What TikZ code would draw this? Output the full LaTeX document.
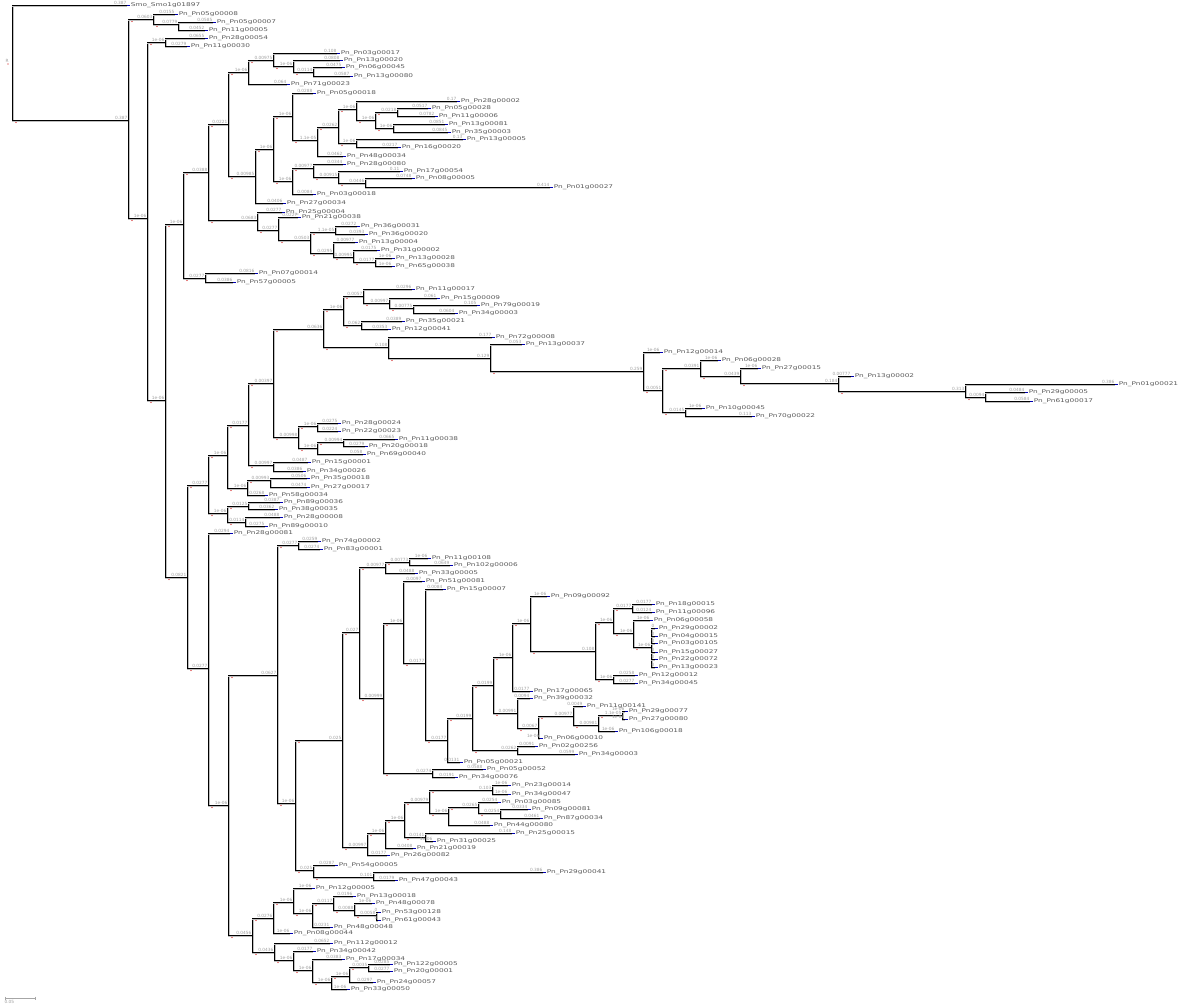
\documentclass[tikz,border=0pt]{standalone}
\usepackage{fontspec}
\newfontfamily\tipfont[FakeStretch=1.45]{DejaVu Sans}
\newfontfamily\lenfont{DejaVu Sans}
\usetikzlibrary{calc}

% vertical bar of a node: x, y top, y bottom
\newcommand{\vl}[3]{%
  \draw[twigshadow] (#1+0.9,#2) -- (#1+0.9,#3+0.9);
  \draw[twig] (#1,#2) -- (#1,#3);}
% inner branch: x from, x to, y, length
\newcommand{\ib}[4]{%
  \draw[twigshadow] (#1,#3+0.9) -- (#2,#3+0.9);
  \draw[twig] (#1,#3) -- (#2,#3);
  \node[blen] at (#2,#3) {#4};
  \fill[red!80!black] (#1+4,#3+2.5) circle (0.7);}
% leaf: x from, x to, y, length, name
\newcommand{\lf}[5]{%
  \draw[twigshadow] (#1,#3+0.9) -- (#2,#3+0.9);
  \draw[twig] (#1,#3) -- (#2,#3);
  \node[blen] at (#2,#3) {#4};
  \draw[tipmark] (#2,#3) -- ++(3,0);
  \node[leafname] at (#2+3,#3) {#5};}

\begin{document}
\begin{tikzpicture}[x=1pt,y=-1pt,
  twig/.style={black,line width=0.8},
  twigshadow/.style={gray!50,line width=1.6},
  blen/.style={anchor=south east,inner sep=0.4,text=gray!75,font=\lenfont\fontsize{4.3}{4.3}\selectfont},
  leafname/.style={anchor=west,inner sep=0.6,text=black!65,font=\tipfont\fontsize{5.1}{5.1}\selectfont},
  tipmark/.style={blue!70!black,line width=0.9}]
\useasboundingbox (0,0) rectangle (1200,1008);

% root
\vl{12}{5}{120}
\node[blen,anchor=center] at (7,61) {R};
\fill[red!80!black] (8,64) circle (0.7);
\lf{12}{127}{5}{0.387}{Smo\_Smo1g01897}
\ib{12}{128}{120}{0.387}
\vl{128}{19}{218}
\ib{128}{153}{19}{0.0603}
\vl{153}{14}{24}
\lf{153}{175}{14}{0.0155}{Pn\_Pn05g00008}
\ib{153}{178}{24}{0.0779}
\vl{178}{22}{30}
\lf{178}{213}{22}{0.0585}{Pn\_Pn05g00007}
\lf{178}{205}{30}{0.0452}{Pn\_Pn11g00005}
\ib{128}{147}{218}{1e-06}
\vl{147}{42}{400}
\ib{147}{165}{42}{1e-06}
\vl{165}{38}{46}
\lf{165}{205}{38}{0.0655}{Pn\_Pn28g00054}
\lf{165}{187}{46}{0.0279}{Pn\_Pn11g00030}
\ib{147}{165}{400}{1e-06}
\vl{165}{224}{577}

% upper clade
\ib{165}{183}{224}{1e-06}
\vl{183}{172}{278}
\ib{183}{208}{172}{0.0388}
\vl{208}{124}{220}
\ib{208}{228}{124}{0.0221}
\vl{228}{72}{176}
\ib{228}{248}{72}{1e-06}
\vl{248}{60}{84}
\ib{248}{273}{60}{0.00975}
\vl{273}{53}{66}
\lf{273}{337}{53}{0.108}{Pn\_Pn03g00017}
\ib{273}{293}{66}{1e-06}
\vl{293}{60}{72}
\lf{293}{340}{60}{0.0808}{Pn\_Pn13g00020}
\ib{293}{313}{72}{0.0114}
\vl{313}{67}{76}
\lf{313}{342}{67}{0.0475}{Pn\_Pn06g00045}
\lf{313}{350}{76}{0.0587}{Pn\_Pn13g00080}
\lf{248}{287}{84}{0.064}{Pn\_Pn71g00023}
\ib{228}{255}{176}{0.00985}
\vl{255}{149}{203}
\ib{255}{273}{149}{1e-06}
\vl{273}{116}{181}
\ib{273}{292}{116}{1e-06}
\vl{292}{93}{140}
\lf{292}{313}{93}{0.0288}{Pn\_Pn05g00018}
\ib{292}{317}{140}{1.1e-05}
\vl{317}{127}{156}
\ib{317}{338}{127}{0.0262}
\vl{338}{109}{143}
\ib{338}{356}{109}{1e-06}
\vl{356}{101}{120}
\lf{356}{457}{101}{0.17}{Pn\_Pn28g00002}
\ib{356}{375}{120}{1e-06}
\vl{375}{112}{128}
\ib{375}{397}{112}{0.0218}
\vl{397}{108}{116}
\lf{397}{428}{108}{0.0517}{Pn\_Pn05g00028}
\lf{397}{435}{116}{0.0782}{Pn\_Pn11g00006}
\ib{375}{393}{128}{1e-06}
\vl{393}{124}{132}
\lf{393}{445}{124}{0.0851}{Pn\_Pn13g00081}
\lf{393}{448}{132}{0.0845}{Pn\_Pn35g00003}
\ib{338}{356}{143}{1e-06}
\vl{356}{139}{147}
\lf{356}{463}{139}{0.13}{Pn\_Pn13g00005}
\lf{356}{398}{147}{0.0217}{Pn\_Pn16g00020}
\lf{317}{343}{156}{0.0462}{Pn\_Pn48g00034}
\ib{273}{292}{181}{1e-06}
\vl{292}{168}{194}
\ib{292}{313}{168}{0.00977}
\vl{313}{164}{177}
\lf{313}{343}{164}{0.0344}{Pn\_Pn28g00080}
\ib{313}{338}{177}{0.00915}
\vl{338}{171}{183}
\lf{338}{400}{171}{0.11}{Pn\_Pn17g00054}
\ib{338}{365}{183}{0.0446}
\vl{365}{178}{187}
\lf{365}{412}{178}{0.0748}{Pn\_Pn08g00005}
\lf{365}{550}{187}{0.414}{Pn\_Pn01g00027}
\lf{292}{313}{194}{0.0084}{Pn\_Pn03g00018}
\lf{255}{283}{203}{0.0406}{Pn\_Pn27g00034}
\ib{208}{257}{220}{0.0683}
\vl{257}{212}{230}
\lf{257}{282}{212}{0.0277}{Pn\_Pn25g00004}
\ib{257}{278}{230}{0.0277}
\vl{278}{217}{240}
\lf{278}{298}{217}{0.0227}{Pn\_Pn21g00038}
\ib{278}{310}{240}{0.0503}
\vl{310}{232}{253}
\ib{310}{335}{232}{1.1e-05}
\vl{335}{226}{234}
\lf{335}{357}{226}{0.0272}{Pn\_Pn36g00031}
\lf{335}{365}{234}{0.0393}{Pn\_Pn36g00020}
\ib{310}{333}{253}{0.0295}
\vl{333}{242}{257}
\lf{333}{355}{242}{0.00977}{Pn\_Pn13g00004}
\ib{333}{353}{257}{0.00995}
\vl{353}{250}{262}
\lf{353}{377}{250}{0.0175}{Pn\_Pn31g00002}
\ib{353}{375}{262}{0.0177}
\vl{375}{258}{266}
\lf{375}{392}{258}{1e-06}{Pn\_Pn13g00028}
\lf{375}{392}{266}{1e-06}{Pn\_Pn65g00038}
\ib{183}{205}{278}{0.0277}
\vl{205}{273}{282}
\lf{205}{255}{273}{0.0816}{Pn\_Pn07g00014}
\lf{205}{233}{282}{0.0386}{Pn\_Pn57g00005}

% middle clade
\ib{165}{187}{577}{0.0821}
\vl{187}{485}{668}
\ib{187}{208}{485}{0.0277}
\vl{208}{455}{513}
\ib{208}{227}{455}{1e-06}
\vl{227}{425}{488}
\ib{227}{248}{425}{0.0177}
\vl{248}{383}{465}
\ib{248}{273}{383}{0.00397}
\vl{273}{329}{437}
\ib{273}{323}{329}{0.0636}
\vl{323}{309}{347}
\ib{323}{343}{309}{1e-06}
\vl{343}{296}{325}
\ib{343}{363}{296}{0.0057}
\vl{363}{289}{303}
\lf{363}{412}{289}{0.0296}{Pn\_Pn11g00017}
\ib{363}{389}{303}{0.00997}
\vl{389}{298}{308}
\lf{389}{437}{298}{0.061}{Pn\_Pn15g00009}
\ib{389}{413}{308}{0.00775}
\vl{413}{305}{313}
\lf{413}{477}{305}{0.105}{Pn\_Pn79g00019}
\lf{413}{455}{313}{0.0604}{Pn\_Pn34g00003}
\ib{343}{361}{325}{0.062}
\vl{361}{321}{329}
\lf{361}{402}{321}{0.0389}{Pn\_Pn35g00021}
\lf{361}{388}{329}{0.0353}{Pn\_Pn12g00041}
\ib{323}{388}{347}{0.108}
\vl{388}{337}{358}
\lf{388}{492}{337}{0.177}{Pn\_Pn72g00008}
\ib{388}{490}{358}{0.129}
\vl{490}{344}{371}
\lf{490}{522}{344}{0.053}{Pn\_Pn13g00037}
\ib{490}{643}{371}{0.259}
\vl{643}{352}{390}
\lf{643}{660}{352}{1e-06}{Pn\_Pn12g00014}
\ib{643}{662}{390}{0.0051}
\vl{662}{368}{412}
\ib{662}{700}{368}{0.0391}
\vl{700}{360}{376}
\lf{700}{718}{360}{1e-06}{Pn\_Pn06g00028}
\ib{700}{740}{376}{0.0439}
\vl{740}{368}{383}
\lf{740}{758}{368}{1e-06}{Pn\_Pn27g00015}
\ib{740}{838}{383}{0.184}
\vl{838}{376}{391}
\lf{838}{851}{376}{0.00777}{Pn\_Pn13g00002}
\ib{838}{965}{391}{0.313}
\vl{965}{384}{397}
\lf{965}{1115}{384}{0.386}{Pn\_Pn01g00021}
\ib{965}{985}{397}{0.0094}
\vl{985}{392}{401}
\lf{985}{1025}{392}{0.0484}{Pn\_Pn29g00005}
\lf{985}{1030}{401}{0.0584}{Pn\_Pn61g00017}
\ib{662}{685}{412}{0.0145}
\vl{685}{408}{416}
\lf{685}{702}{408}{1e-06}{Pn\_Pn10g00045}
\lf{685}{752}{416}{0.113}{Pn\_Pn70g00022}
\ib{273}{298}{437}{0.00998}
\vl{298}{426}{448}
\ib{298}{317}{426}{1e-06}
\vl{317}{423}{431}
\lf{317}{338}{423}{0.0275}{Pn\_Pn28g00024}
\lf{317}{338}{431}{0.0224}{Pn\_Pn22g00023}
\ib{298}{317}{448}{1e-06}
\vl{317}{442}{454}
\ib{317}{343}{442}{0.00994}
\vl{343}{439}{446}
\lf{343}{395}{439}{0.0665}{Pn\_Pn11g00038}
\lf{343}{365}{446}{0.0279}{Pn\_Pn20g00018}
\lf{317}{363}{454}{0.058}{Pn\_Pn69g00040}
\ib{248}{273}{465}{0.00997}
\vl{273}{462}{471}
\lf{273}{308}{462}{0.0487}{Pn\_Pn15g00001}
\lf{273}{303}{471}{0.0386}{Pn\_Pn34g00026}
\ib{227}{247}{488}{1e-06}
\vl{247}{480}{495}
\ib{247}{270}{480}{0.00993}
\vl{270}{478}{487}
\lf{270}{307}{478}{0.0506}{Pn\_Pn35g00018}
\lf{270}{307}{487}{0.0474}{Pn\_Pn27g00017}
\lf{247}{265}{495}{0.0268}{Pn\_Pn58g00034}
\ib{208}{227}{513}{1e-06}
\vl{227}{506}{522}
\ib{227}{248}{506}{0.0125}
\vl{248}{502}{509}
\lf{248}{280}{502}{0.0387}{Pn\_Pn89g00036}
\lf{248}{275}{509}{0.0362}{Pn\_Pn38g00035}
\ib{227}{245}{522}{0.0114}
\vl{245}{517}{526}
\lf{245}{280}{517}{0.0488}{Pn\_Pn28g00008}
\lf{245}{265}{526}{0.0275}{Pn\_Pn89g00010}

% lower clade
\ib{187}{208}{668}{0.0277}
\vl{208}{533}{805}
\lf{208}{230}{533}{0.0294}{Pn\_Pn28g00081}
\ib{208}{228}{805}{1e-06}
\vl{228}{675}{935}
\ib{228}{277}{675}{0.0627}
\vl{277}{545}{803}
\ib{277}{298}{545}{0.0277}
\vl{298}{541}{549}
\lf{298}{318}{541}{0.0259}{Pn\_Pn74g00002}
\lf{298}{320}{549}{0.0274}{Pn\_Pn83g00001}
\ib{277}{295}{803}{1e-06}
\vl{295}{740}{870}
\ib{295}{342}{740}{0.025}
\vl{342}{632}{847}
\ib{342}{359}{632}{0.027}
\vl{359}{567}{698}
\ib{359}{385}{567}{0.00977}
\vl{385}{562}{573}
\ib{385}{409}{562}{0.00773}
\vl{409}{558}{565}
\lf{409}{428}{558}{1e-06}{Pn\_Pn11g00108}
\lf{409}{450}{565}{0.0649}{Pn\_Pn102g00006}
\lf{385}{415}{573}{0.0488}{Pn\_Pn33g00005}
\ib{359}{383}{698}{0.00999}
\vl{383}{623}{773}
\ib{383}{403}{623}{1e-06}
\vl{403}{581}{663}
\lf{403}{422}{581}{0.0097}{Pn\_Pn51g00081}
\ib{403}{425}{663}{0.0177}
\vl{425}{589}{740}
\lf{425}{443}{589}{0.0084}{Pn\_Pn15g00007}
\ib{425}{447}{740}{0.0177}
\vl{447}{718}{762}
\ib{447}{472}{718}{0.0199}
\vl{472}{685}{750}
\ib{472}{493}{685}{0.0199}
\vl{493}{657}{713}
\ib{493}{512}{657}{1e-06}
\vl{512}{623}{691}
\ib{512}{530}{623}{1e-06}
\vl{530}{596}{651}
\lf{530}{547}{596}{1e-06}{Pn\_Pn09g00092}
\ib{530}{595}{651}{0.108}
\vl{595}{622}{679}
\ib{595}{613}{622}{1e-06}
\vl{613}{608}{633}
\ib{613}{632}{608}{0.0177}
\vl{632}{604}{612}
\lf{632}{652}{604}{0.0177}{Pn\_Pn18g00015}
\lf{632}{652}{612}{0.0124}{Pn\_Pn11g00096}
\ib{613}{633}{633}{1e-06}
\vl{633}{620}{647}
\lf{633}{650}{620}{1e-06}{Pn\_Pn06g00058}
\ib{633}{651}{647}{1e-06}
\vl{651}{628}{667}
\foreach \yy/\nm in {628/Pn\_Pn29g00002,636/Pn\_Pn04g00015,643/Pn\_Pn03g00105,
    652/Pn\_Pn15g00027,659/Pn\_Pn22g00072,667/Pn\_Pn13g00023}
  {\lf{651}{655}{\yy}{0}{\nm}}
\ib{595}{613}{679}{1e-06}
\vl{613}{675}{683}
\lf{613}{635}{675}{0.0258}{Pn\_Pn12g00012}
\lf{613}{635}{683}{0.0277}{Pn\_Pn34g00045}
\lf{512}{530}{691}{0.0177}{Pn\_Pn17g00065}
\ib{493}{517}{713}{0.00991}
\vl{517}{698}{728}
\lf{517}{530}{698}{0.0094}{Pn\_Pn39g00032}
\ib{517}{538}{728}{0.0067}
\vl{538}{716}{738}
\ib{538}{573}{716}{0.00977}
\vl{573}{706}{725}
\lf{573}{583}{706}{0.0049}{Pn\_Pn11g00141}
\ib{573}{598}{725}{0.00981}
\vl{598}{715}{731}
\ib{598}{622}{715}{1.1e-05}
\vl{622}{711}{719}
\lf{622}{625}{711}{1e-06}{Pn\_Pn29g00077}
\lf{622}{625}{719}{1e-06}{Pn\_Pn27g00080}
\lf{598}{615}{731}{1e-06}{Pn\_Pn106g00018}
\lf{538}{540}{738}{1e-06}{Pn\_Pn06g00010}
\ib{472}{517}{750}{0.0262}
\vl{517}{746}{754}
\lf{517}{535}{746}{0.0091}{Pn\_Pn02g00256}
\lf{517}{575}{754}{0.0599}{Pn\_Pn34g00003}
\lf{447}{460}{762}{0.0131}{Pn\_Pn05g00021}
\ib{383}{432}{773}{0.0274}
\vl{432}{769}{777}
\lf{432}{483}{769}{0.0588}{Pn\_Pn05g00052}
\lf{432}{455}{777}{0.0191}{Pn\_Pn34g00076}
\ib{342}{367}{847}{0.00997}
\vl{367}{833}{855}
\ib{367}{385}{833}{1e-06}
\vl{385}{820}{848}
\ib{385}{404}{820}{1e-06}
\vl{404}{802}{837}
\ib{404}{429}{802}{0.00979}
\vl{429}{790}{813}
\ib{429}{492}{790}{0.103}
\vl{492}{785}{794}
\lf{492}{508}{785}{1e-06}{Pn\_Pn23g00014}
\lf{492}{508}{794}{1e-06}{Pn\_Pn34g00047}
\ib{429}{448}{813}{1e-06}
\vl{448}{807}{825}
\ib{448}{478}{807}{0.0265}
\vl{478}{802}{813}
\lf{478}{498}{802}{0.0254}{Pn\_Pn03g00085}
\ib{478}{500}{813}{0.0254}
\vl{500}{809}{818}
\lf{500}{528}{809}{0.0334}{Pn\_Pn09g00081}
\lf{500}{540}{818}{0.0461}{Pn\_Pn87g00034}
\lf{448}{490}{825}{0.0488}{Pn\_Pn44g00080}
\ib{404}{425}{837}{0.0141}
\vl{425}{833}{841}
\lf{425}{512}{833}{0.148}{Pn\_Pn25g00015}
\lf{425}{433}{841}{1e-06}{Pn\_Pn31g00025}
\lf{385}{413}{848}{0.0408}{Pn\_Pn21g00019}
\lf{367}{387}{855}{0.0177}{Pn\_Pn26g00082}
\ib{295}{313}{870}{0.025}
\vl{313}{865}{877}
\lf{313}{335}{865}{0.0287}{Pn\_Pn54g00005}
\ib{313}{373}{877}{0.101}
\vl{373}{872}{880}
\lf{373}{543}{872}{0.386}{Pn\_Pn29g00041}
\lf{373}{395}{880}{0.0179}{Pn\_Pn47g00043}
\ib{228}{252}{935}{0.0456}
\vl{252}{918}{952}
\ib{252}{273}{918}{0.0276}
\vl{273}{902}{933}
\ib{273}{293}{902}{1e-06}
\vl{293}{888}{913}
\lf{293}{312}{888}{1e-06}{Pn\_Pn12g00005}
\ib{293}{312}{913}{1e-06}
\vl{312}{903}{927}
\ib{312}{333}{903}{0.0117}
\vl{333}{896}{910}
\lf{333}{353}{896}{0.0196}{Pn\_Pn13g00018}
\ib{333}{354}{910}{0.0088}
\vl{354}{903}{915}
\lf{354}{372}{903}{1e-06}{Pn\_Pn48g00078}
\ib{354}{376}{915}{0.0058}
\vl{376}{912}{920}
\lf{376}{378}{912}{0}{Pn\_Pn53g00128}
\lf{376}{378}{920}{0}{Pn\_Pn61g00043}
\lf{312}{330}{927}{0.0231}{Pn\_Pn48g00048}
\lf{273}{290}{933}{1e-06}{Pn\_Pn08g00044}
\ib{252}{274}{952}{0.0436}
\vl{274}{943}{960}
\lf{274}{330}{943}{0.0652}{Pn\_Pn112g00012}
\ib{274}{293}{960}{1e-06}
\vl{293}{951}{970}
\lf{293}{313}{951}{0.0177}{Pn\_Pn34g00042}
\ib{293}{312}{970}{1e-06}
\vl{312}{959}{982}
\lf{312}{342}{959}{0.0383}{Pn\_Pn17g00034}
\ib{312}{331}{982}{1e-06}
\vl{331}{976}{989}
\ib{331}{349}{976}{1e-06}
\vl{349}{967}{982}
\ib{349}{368}{967}{0.0035}
\vl{368}{964}{971}
\lf{368}{390}{964}{0.0285}{Pn\_Pn122g00005}
\lf{368}{390}{971}{0.0277}{Pn\_Pn20g00001}
\lf{349}{373}{982}{0.0297}{Pn\_Pn24g00057}
\lf{331}{347}{989}{1e-06}{Pn\_Pn33g00050}

% scale bar
\draw[twig,gray!70] (5,998) -- (35,998);
\draw[twig,gray!70] (5,996.5) -- (5,999.5) (35,996.5) -- (35,999.5);
\node[blen,anchor=north west] at (4,1000) {0.05};
\end{tikzpicture}
\end{document}
